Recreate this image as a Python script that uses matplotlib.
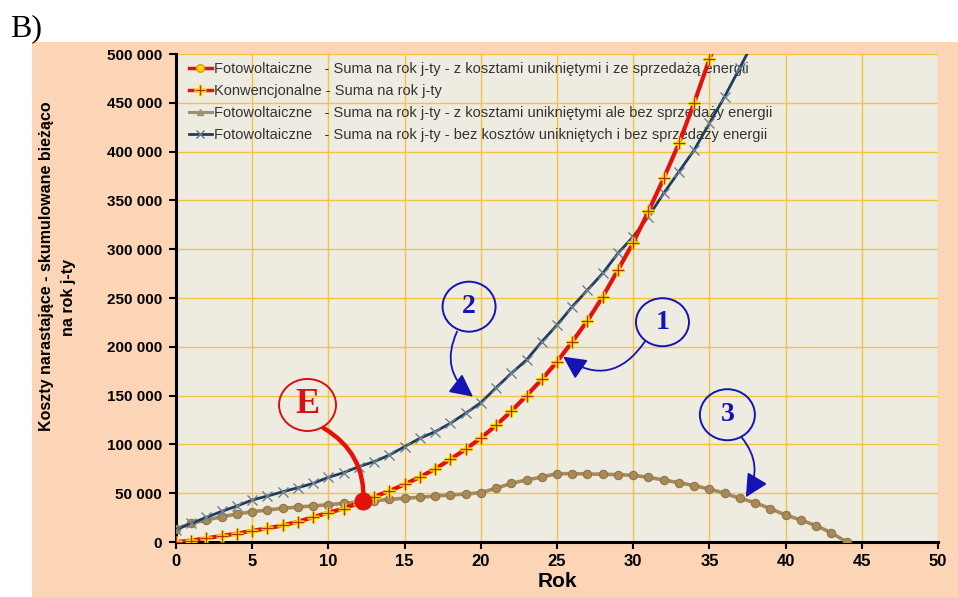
import numpy as np
import matplotlib
matplotlib.use("Agg")
import matplotlib.pyplot as plt
from matplotlib.patches import Ellipse, FancyArrowPatch, Rectangle
from matplotlib.lines import Line2D
from matplotlib.ticker import FuncFormatter, MultipleLocator

# ---------------- data ----------------
years_konw = list(range(0, 37))
konw = [0, 1500, 3800, 6300, 8600, 11500, 14000, 17000, 20800, 25500, 30000,
        34200, 40000, 46400, 52200, 59100, 66600, 74800, 84700, 95000, 106500,
        119500, 134000, 150000, 166500, 184700, 205200, 226700, 251300, 278700,
        306700, 338800, 372600, 408500, 450000, 494500, 542000]

years_pv_nosale = list(range(0, 45))
pv_nosale = [13300, 19100, 22500, 25900, 28700, 31000, 32800, 34500, 35900, 36900,
             38200, 39600, 41000, 42300, 43700, 44800, 45800, 47100, 48200, 49200,
             50500, 55000, 60100, 63500, 66600, 70000, 70000, 69700, 69400, 69000,
             68300, 66300, 63500, 60800, 57700, 54300, 49900, 44800, 40300, 34100,
             27700, 22500, 16700, 9500, 0]

years_pv_none = list(range(0, 39))
pv_none = [12800, 19100, 25300, 31400, 36900, 43000, 47100, 51500, 55600, 60100,
           66300, 71000, 77200, 82300, 89100, 97700, 106200, 113000, 121600, 131900,
           142700, 158000, 172800, 186500, 205200, 222300, 241100, 258200, 275300,
           295800, 312800, 333300, 357300, 379400, 401600, 429000, 456300, 486000,
           516000]

labels = [
    "Fotowoltaiczne   - Suma na rok j-ty - z kosztami unikniętymi i ze sprzedażą energii",
    "Konwencjonalne - Suma na rok j-ty",
    "Fotowoltaiczne   - Suma na rok j-ty - z kosztami unikniętymi ale bez sprzedaży energii",
    "Fotowoltaiczne   - Suma na rok j-ty - bez kosztów unikniętych i bez sprzedaży energii",
]
x_label = "Rok"
y_label_1 = "Koszty narastające - skumulowane bieżąco"
y_label_2 = "na rok j-ty"
panel_label = "B)"

# point E (break-even)
e_point = (12.3, 41500)

# ---------------- styling ----------------
W, H = 958, 597
fig = plt.figure(figsize=(W / 100, H / 100), dpi=100, facecolor="white")
fig.patches.append(Rectangle((32 / W, 0), 1 - 32 / W, 1 - 42 / H,
                             transform=fig.transFigure, facecolor="#FBD5B5",
                             edgecolor="none", zorder=-5))

ax = fig.add_axes([176 / W, 1 - 542 / H, (938 - 176) / W, (542 - 54) / H])
ax.set_zorder(1)
ax.set_facecolor("#EEECE1")
ax.set_xlim(0, 50)
ax.set_ylim(0, 500000)
ax.xaxis.set_major_locator(MultipleLocator(5))
ax.yaxis.set_major_locator(MultipleLocator(50000))
ax.grid(True, color="#F5C342", lw=1.0, zorder=0)
ax.set_axisbelow(True)
for s in ("top", "right"):
    ax.spines[s].set_visible(False)
for s in ("left", "bottom"):
    ax.spines[s].set_linewidth(2.2)
    ax.spines[s].set_color("black")
ax.tick_params(direction="out", length=5, width=1.5, color="black")
ax.yaxis.set_major_formatter(FuncFormatter(lambda v, p: f"{int(v):,}".replace(",", " ")))
for t in ax.get_yticklabels():
    t.set_fontfamily(["Liberation Sans", "DejaVu Sans"])
    t.set_fontweight("bold")
    t.set_fontsize(11)
for t in ax.get_xticklabels():
    t.set_fontfamily(["Liberation Sans Narrow", "Liberation Sans", "DejaVu Sans"])
    t.set_fontweight("bold")
    t.set_fontsize(12)
ax.tick_params(axis="y", pad=5)
ax.tick_params(axis="x", pad=4)

ax.set_xlabel(x_label, fontsize=15, fontweight="bold",
              fontfamily=["Liberation Sans Narrow", "Liberation Sans", "DejaVu Sans"], labelpad=2)

fig.text(47 / W, 1 - 266 / H, y_label_1, rotation=90, ha="center", va="center",
         fontsize=11.5, fontweight="bold", fontfamily=["Liberation Sans", "DejaVu Sans"])
fig.text(68 / W, 1 - 298 / H, y_label_2, rotation=90, ha="center", va="center",
         fontsize=11.5, fontweight="bold", fontfamily=["Liberation Sans", "DejaVu Sans"])
fig.text(10 / W, 1 - 36 / H, panel_label, fontsize=23,
         fontfamily=["Liberation Serif", "DejaVu Serif"], va="baseline")

# ---------------- series ----------------
RED = "#E3120B"
NAVY = "#213D5C"
TAN = "#A58A5C"

ax.plot(years_pv_nosale, pv_nosale, color=TAN, lw=2.6, marker="o", ms=6,
        mfc="#A88A58", mec="#8F7446", mew=0.8, zorder=3, clip_on=True)
ax.plot(years_pv_none, pv_none, color=NAVY, lw=2.0, marker="x", ms=6.5,
        mec="#6E7F94", mew=1.0, zorder=4)
ax.plot(years_konw, konw, color=RED, lw=3.0, zorder=5)
ax.plot(years_konw, konw, ls="none", marker="P", ms=9, mfc="#FFF200",
        mec="none", zorder=6)
ax.plot(years_konw, konw, ls="none", marker="+", ms=8, mec="#B0301A",
        mew=1.0, zorder=7)

# ---------------- legend ----------------
h_a = Line2D([], [], color=RED, lw=2.5, marker="o", ms=5.5, mfc="#F8D800", mec="#E29A00")
h_b1 = Line2D([], [], color=RED, lw=2.5, marker="P", ms=9, mfc="#FFF200", mec="none")
h_b2 = Line2D([], [], ls="none", marker="+", ms=7, mec="#B0301A", mew=1.0)
h_c = Line2D([], [], color="#9C9172", lw=2.2, marker="^", ms=5, mfc="#9C9172", mec="#9C9172")
h_d = Line2D([], [], color=NAVY, lw=2.0, marker="x", ms=6, mec="#5E7390", mew=1.0)
leg = ax.legend([h_a, (h_b1, h_b2), h_c, h_d], labels, loc="upper left",
                bbox_to_anchor=(13 / 762, 1 - 8 / 488), frameon=False,
                prop={"family": ["Liberation Sans", "DejaVu Sans"], "size": 10.5},
                handlelength=1.55, handletextpad=0.15, labelspacing=0.55,
                borderpad=0, borderaxespad=0, numpoints=1)
leg.set_zorder(2)
for t in leg.get_texts():
    t.set_color("#333333")

# ---------------- annotations ----------------
BLUE = "#1414B4"
def circle_label(cx, cy, w, h, txt, color, size):
    ax.add_patch(Ellipse((cx, cy), w, h, facecolor="none", edgecolor=color,
                         lw=1.4, zorder=9, clip_on=False))
    ax.text(cx, cy, txt, ha="center", va="center", color=color, fontsize=size,
            fontweight="bold", fontfamily=["Liberation Serif", "DejaVu Serif"], zorder=10)

def arrow(p0, p1, rad, color, lw, head=True):
    style = "-|>,head_length=1.0,head_width=0.5" if head else "-"
    ax.add_patch(FancyArrowPatch(p0, p1, connectionstyle=f"arc3,rad={rad}",
                                 arrowstyle=style, color=color, lw=lw,
                                 mutation_scale=14, zorder=9, shrinkA=0, shrinkB=0))

circle_label(19.23, 241100, 3.48, 51200, "2", BLUE, 20)
arrow((18.44, 215500), (19.49, 148900), 0.4, BLUE, 1.3)
circle_label(31.92, 225200, 3.48, 49200, "1", BLUE, 20)
arrow((30.76, 205200), (25.40, 189900), -0.5, BLUE, 1.3)
circle_label(36.18, 130400, 3.61, 52300, "3", BLUE, 20)
arrow((37.11, 107300), (37.39, 45800), -0.35, BLUE, 1.3)

circle_label(8.63, 140400, 3.74, 53300, "E", "#D81010", 26)
arrow((9.68, 116800), e_point, -0.3, "#E3120B", 3.2, head=False)
ax.plot([e_point[0]], [e_point[1]], marker="o", ms=12, color="#E3120B", zorder=10)

fig.savefig("out.png", dpi=100, facecolor="white")
